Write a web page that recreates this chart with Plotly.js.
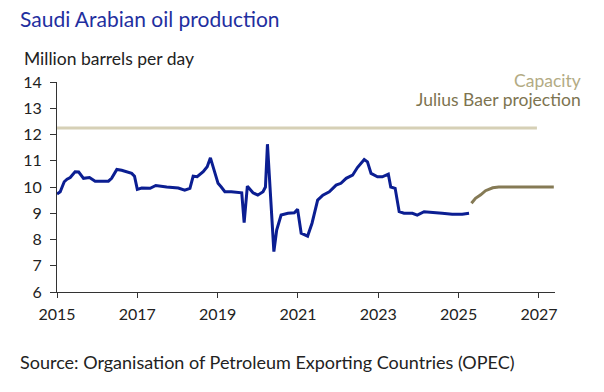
<!DOCTYPE html>
<html>
<head>
<meta charset="utf-8">
<script src="https://cdn.plot.ly/plotly-3.0.1.min.js"></script>
<style>html,body{margin:0;padding:0;background:#fff;}#chart{width:604px;height:392px;}</style>
</head>
<body>
<div id="chart"></div>
<script>
// Saudi Arabian oil production (million barrels per day), decimal years
const prodYears = [2015.0,2015.08,2015.18,2015.25,2015.33,2015.45,2015.54,2015.66,2015.81,2015.95,2016.28,2016.36,2016.49,2016.61,2016.86,2016.93,2017.0,2017.11,2017.32,2017.46,2017.73,2018.02,2018.18,2018.31,2018.39,2018.49,2018.64,2018.74,2018.82,2018.93,2019.01,2019.09,2019.18,2019.34,2019.55,2019.6,2019.66,2019.74,2019.88,2020.0,2020.13,2020.19,2020.24,2020.32,2020.4,2020.47,2020.58,2020.75,2020.91,2020.99,2021.08,2021.24,2021.35,2021.49,2021.62,2021.78,2021.95,2022.07,2022.2,2022.36,2022.48,2022.65,2022.73,2022.82,2022.98,2023.1,2023.25,2023.31,2023.42,2023.52,2023.64,2023.85,2023.97,2024.14,2024.35,2024.59,2024.84,2025.09,2025.26];
const prodValues = [9.73,9.82,10.2,10.3,10.36,10.58,10.57,10.33,10.36,10.22,10.22,10.33,10.67,10.64,10.52,10.41,9.91,9.96,9.95,10.06,10.0,9.96,9.88,9.95,10.41,10.39,10.58,10.77,11.11,10.58,10.14,10.0,9.82,9.82,9.78,9.78,8.64,10.03,9.78,9.69,9.82,10.0,11.63,9.38,7.54,8.36,8.93,9.0,9.02,9.15,8.24,8.13,8.62,9.5,9.69,9.82,10.07,10.14,10.33,10.45,10.74,11.05,10.96,10.52,10.39,10.39,10.49,10.0,9.95,9.06,9.0,9.0,8.93,9.06,9.02,9.0,8.96,8.96,9.0];
const projYears = [2025.32,2025.42,2025.55,2025.67,2025.85,2026.0,2027.37];
const projValues = [9.38,9.57,9.7,9.86,9.97,10.0,10.0];
const capYears = [2015.0,2026.95];
const capValues = [12.25,12.25];
const xTicks = [2015,2017,2019,2021,2023,2025,2027];
const yTicks = [6,7,8,9,10,11,12,13,14];

const FONT = 'Lato, "Open Sans", sans-serif';
const W = 498, H = 210;
const traces = [
  {x: capYears, y: capValues, mode: 'lines', line: {color: '#d6d0b6', width: 3}, hoverinfo: 'skip'},
  {x: prodYears, y: prodValues, mode: 'lines', line: {color: '#0b1e92', width: 3}, hoverinfo: 'skip'},
  {x: projYears, y: projValues, mode: 'lines', line: {color: '#857a55', width: 3}, hoverinfo: 'skip'}
];
const layout = {
  width: 604, height: 392,
  margin: {l: 57, r: 49, t: 82, b: 100},
  paper_bgcolor: '#ffffff', plot_bgcolor: '#ffffff',
  showlegend: false,
  font: {family: FONT, color: '#222', size: 16},
  xaxis: {range: [2015, 2027.4], tickvals: xTicks, ticktext: xTicks.map(String), ticks: 'outside', ticklen: 5, tickcolor: '#333',
          ticklabelstandoff: 3,
          showline: true, linecolor: '#333', linewidth: 1, showgrid: false, zeroline: false, fixedrange: true,
          tickfont: {family: FONT, size: 16, color: '#222'}},
  yaxis: {range: [6, 14], tickvals: yTicks, ticks: 'outside', ticklen: 6, tickcolor: '#333',
          ticklabelstandoff: 5,
          showline: true, linecolor: '#333', linewidth: 1, showgrid: false, zeroline: false, fixedrange: true,
          tickfont: {family: FONT, size: 16, color: '#222'}},
  annotations: [
    {xref: 'paper', yref: 'paper', x: -39/W, y: 1 + 63/H, xanchor: 'left', yanchor: 'middle', showarrow: false,
     text: 'Saudi Arabian oil production', font: {family: FONT, size: 21, color: '#1f2f9f'}},
    {xref: 'paper', yref: 'paper', x: -35/W, y: 1 + 23/H, xanchor: 'left', yanchor: 'middle', showarrow: false,
     text: 'Million barrels per day', font: {family: FONT, size: 17.5, color: '#222'}},
    {xref: 'paper', yref: 'paper', x: 1 + 28/W, y: 1 + 2/H, xanchor: 'right', yanchor: 'middle', showarrow: false,
     text: 'Capacity', font: {family: FONT, size: 17.5, color: '#b3ab84'}},
    {xref: 'paper', yref: 'paper', x: 1 + 28/W, y: 1 - 17.5/H, xanchor: 'right', yanchor: 'middle', showarrow: false,
     text: 'Julius Baer projection', font: {family: FONT, size: 17.5, color: '#7d7450'}},
    {xref: 'paper', yref: 'paper', x: -39/W, y: -70/H, xanchor: 'left', yanchor: 'middle', showarrow: false,
     text: 'Source: Organisation of Petroleum Exporting Countries (OPEC)', font: {family: FONT, size: 18, color: '#222'}}
  ]
};
Plotly.newPlot('chart', traces, layout, {staticPlot: true, displayModeBar: false});
</script>
</body>
</html>
